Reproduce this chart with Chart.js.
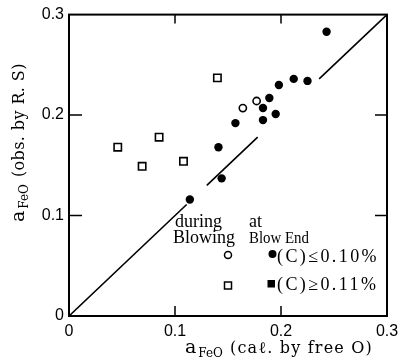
<!DOCTYPE html>
<html>
<head>
<meta charset="utf-8">
<script src="https://cdn.jsdelivr.net/npm/chart.js@4.4.1/dist/chart.umd.min.js"></script>
<style>
  html, body { margin: 0; padding: 0; background: #fff; }
  #wrap { width: 405px; height: 361px; }
</style>
</head>
<body>
<div id="wrap"><canvas id="afeo-chart"></canvas></div>
<script>
// values
const blowEndX = [0.243, 0.212, 0.225, 0.198, 0.189, 0.183, 0.183, 0.195, 0.157, 0.141, 0.144, 0.114];
const blowEndY = [0.283, 0.236, 0.234, 0.230, 0.217, 0.207, 0.195, 0.201, 0.192, 0.168, 0.137, 0.116];
const blowingLowX = [0.164, 0.177];
const blowingLowY = [0.207, 0.214];
const blowingHighX = [0.140, 0.046, 0.069, 0.085, 0.108];
const blowingHighY = [0.237, 0.168, 0.149, 0.178, 0.154];
const diagonalSegments = [[0, 0.111], [0.130, 0.178], [0.236, 0.3]];
const tickValues = [0, 0.1, 0.2, 0.3];
const tickLabels = ['0', '0.1', '0.2', '0.3'];

function pts(xs, ys) {
  return xs.map(function(x, i) { return { x: x, y: ys[i] }; });
}

// y = x line, broken where the points sit
var diagonal = [];
diagonalSegments.forEach(function(seg, i) {
  if (i > 0) diagonal.push({ x: (seg[0] + diagonalSegments[i - 1][1]) / 2, y: null });
  diagonal.push({ x: seg[0], y: seg[0] });
  diagonal.push({ x: seg[1], y: seg[1] });
});

var labelFont = { family: "'Liberation Sans Narrow', 'Liberation Sans', sans-serif", size: 16 };

function fixTicks(scale) {
  scale.ticks = tickValues.map(function(v) { return { value: v }; });
}

// frame, inward ticks, axis titles and the legend block
var framePlugin = {
  id: 'frame',
  afterDraw: function(chart) {
    var ctx = chart.ctx, a = chart.chartArea;
    var xs = chart.scales.x, ys = chart.scales.y;
    ctx.save();
    ctx.strokeStyle = '#000';
    ctx.lineWidth = 2;
    ctx.strokeRect(a.left, a.top, a.right - a.left, a.bottom - a.top);
    ctx.lineWidth = 1.5;
    [0.1, 0.2].forEach(function(v) {
      var px = xs.getPixelForValue(v), py = ys.getPixelForValue(v);
      ctx.beginPath();
      ctx.moveTo(px, a.bottom); ctx.lineTo(px, a.bottom - 10);
      ctx.moveTo(px, a.top); ctx.lineTo(px, a.top + 9);
      ctx.moveTo(a.left, py); ctx.lineTo(a.left + 13, py);
      ctx.moveTo(a.right, py); ctx.lineTo(a.right - 12, py);
      ctx.stroke();
    });

    ctx.fillStyle = '#000';
    ctx.textBaseline = 'alphabetic';
    function subTitle(main, sub, rest, spacing) {
      ctx.letterSpacing = '0px';
      ctx.font = "19px 'DejaVu Serif'";
      ctx.fillText(main, 0, 0);
      var w = ctx.measureText(main).width + 2;
      ctx.font = "12px 'DejaVu Serif'";
      ctx.fillText(sub, w, 4);
      w += ctx.measureText(sub).width + 7;
      ctx.font = "16px 'DejaVu Serif'";
      ctx.letterSpacing = spacing;
      ctx.fillText(rest, w, 0);
      ctx.letterSpacing = '0px';
    }
    // x title
    ctx.save();
    ctx.translate(185, 353);
    subTitle('a', 'FeO', '(caℓ. by free O)', '1.2px');
    ctx.restore();
    // y title
    ctx.save();
    ctx.translate(24, 222);
    ctx.rotate(-Math.PI / 2);
    subTitle('a', 'FeO', '(obs. by R. S)', '0.4px');
    ctx.restore();

    // legend (widths matched to the figure)
    ctx.font = "18px 'Liberation Serif', serif";
    ctx.fillText('during', 175, 227, 50);
    ctx.fillText('at', 249, 227, 17);
    ctx.fillText('Blowing', 173, 243, 65);
    ctx.font = "16px 'Liberation Serif', serif";
    ctx.fillText('Blow End', 249, 243, 60);
    ctx.font = "18px 'Liberation Serif', serif";
    ctx.letterSpacing = '2.4px';
    ctx.fillText('(C)≤0.10%', 277, 262);
    ctx.fillText('(C)≥0.11%', 277, 290);
    ctx.letterSpacing = '0px';
    ctx.lineWidth = 1.5;
    ctx.beginPath(); ctx.arc(228, 255, 3.5, 0, Math.PI * 2); ctx.stroke();
    ctx.beginPath(); ctx.arc(272.5, 254, 4, 0, Math.PI * 2); ctx.fill();
    ctx.strokeRect(224.5, 282, 7, 7);
    ctx.fillRect(267.5, 280, 7.5, 7.5);
    ctx.restore();
  }
};

new Chart(document.getElementById('afeo-chart'), {
  type: 'scatter',
  data: {
    datasets: [
      {
        label: 'Blow End (C)≤0.10%',
        data: pts(blowEndX, blowEndY),
        pointStyle: 'circle',
        pointRadius: 4.2,
        backgroundColor: '#000',
        borderColor: '#000',
        borderWidth: 0
      },
      {
        label: 'Blowing (C)≤0.10%',
        data: pts(blowingLowX, blowingLowY),
        pointStyle: 'circle',
        pointRadius: 3.6,
        backgroundColor: '#fff',
        borderColor: '#000',
        borderWidth: 1.6
      },
      {
        label: 'Blowing (C)≥0.11%',
        data: pts(blowingHighX, blowingHighY),
        pointStyle: 'rect',
        pointRadius: 5.2,
        backgroundColor: '#fff',
        borderColor: '#000',
        borderWidth: 1.6
      },
      {
        type: 'line',
        label: 'y = x',
        data: diagonal,
        borderColor: '#000',
        borderWidth: 1.6,
        pointRadius: 0,
        spanGaps: false,
        fill: false
      }
    ]
  },
  options: {
    responsive: true,
    maintainAspectRatio: false,
    animation: false,
    layout: { padding: { top: 14, right: 18, left: 0, bottom: 0 } },
    plugins: {
      legend: { display: false },
      tooltip: { enabled: false }
    },
    scales: {
      x: {
        type: 'linear',
        min: 0,
        max: 0.3,
        afterBuildTicks: fixTicks,
        afterFit: function(s) { s.height = 45; },
        grid: { display: false, drawTicks: false },
        border: { display: false },
        ticks: {
          color: '#000',
          font: labelFont,
          padding: 6,
          maxRotation: 0,
          callback: function(v, i) { return tickLabels[i]; }
        }
      },
      y: {
        type: 'linear',
        min: 0,
        max: 0.3,
        afterBuildTicks: fixTicks,
        afterFit: function(s) { s.width = 69; },
        grid: { display: false, drawTicks: false },
        border: { display: false },
        ticks: {
          color: '#000',
          font: labelFont,
          padding: 5,
          callback: function(v, i) { return tickLabels[i]; }
        }
      }
    }
  },
  plugins: [framePlugin]
});
</script>
</body>
</html>
